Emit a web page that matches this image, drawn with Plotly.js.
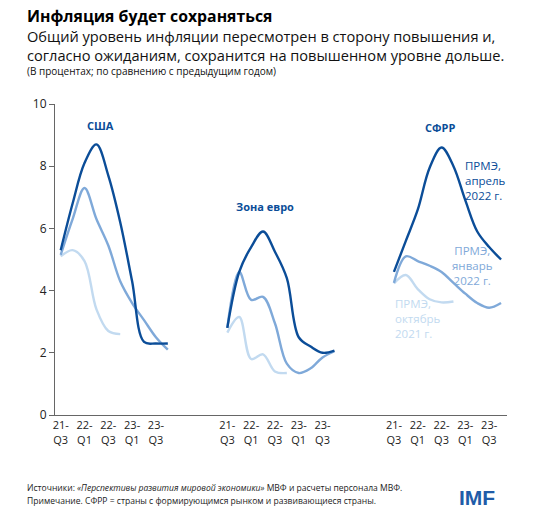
<!DOCTYPE html>
<html>
<head>
<meta charset="utf-8">
<script src="https://cdn.plot.ly/plotly-3.0.1.min.js"></script>
<style>
  body { margin: 0; background: #fff; }
  #chart { width: 542px; height: 527px; }
</style>
</head>
<body>
<div id="chart"></div>
<script>
// tick labels, every second quarter
var tickLabels = ['21-<br>Q3', '22-<br>Q1', '22-<br>Q3', '23-<br>Q1', '23-<br>Q3'];

// США
var usApr = [5.3, 6.8, 8.1, 8.7, 7.7, 6.2, 4.3, 2.35, 2.3, 2.3];
var usJan = [5.15, 6.3, 7.3, 6.3, 5.45, 4.3, 3.6, 3.05, 2.5, 2.1];
var usOct = [5.1, 5.3, 4.95, 3.4, 2.7, 2.6];
// Зона евро
var euApr = [2.8, 4.6, 5.4, 5.9, 5.25, 4.4, 2.5, 2.2, 2.0, 2.07];
var euJan = [2.8, 4.6, 3.7, 3.8, 2.95, 1.65, 1.35, 1.5, 1.85, 2.05];
var euOct = [2.65, 3.15, 1.8, 1.95, 1.4, 1.35];
// СФРР
var emApr = [4.6, 5.6, 6.6, 7.95, 8.6, 8.0, 6.9, 5.9, 5.4, 5.0];
var emJan = [4.25, 5.1, 4.95, 4.8, 4.6, 4.25, 3.9, 3.6, 3.45, 3.6];
var emOct = [4.23, 4.5, 4.05, 3.72, 3.62, 3.65];

var groupStart = [0, 14, 28];   // first quarter of each block on the x axis

var cDark = '#0b4d98';
var cMid = '#7fa9d9';
var cLight = '#c2daf0';

function xs(vals, g) {
    return vals.map(function(v, i) { return groupStart[g] + i; });
}

function trace(vals, g, color) {
    return {
        x: xs(vals, g),
        y: vals,
        type: 'scatter',
        mode: 'lines',
        line: { color: color, width: 2.4, shape: 'spline', smoothing: 1 },
        hoverinfo: 'skip',
        showlegend: false
    };
}

// draw light first so the darker lines sit on top
var data = [
    trace(usOct, 0, cLight), trace(usJan, 0, cMid), trace(usApr, 0, cDark),
    trace(euOct, 1, cLight), trace(euJan, 1, cMid), trace(euApr, 1, cDark),
    trace(emOct, 2, cLight), trace(emJan, 2, cMid), trace(emApr, 2, cDark)
];

var tickvals = [];
var ticktext = [];
groupStart.forEach(function(s) {
    tickLabels.forEach(function(t, i) {
        tickvals.push(s + i * 2);
        ticktext.push(t);
    });
});

// plot box in pixels, used to place the header/footer text
var W = 542, H = 527;
var M = { l: 55, r: 35, t: 104, b: 112 };
function px(x) { return (x - M.l) / (W - M.l - M.r); }
function py(y) { return (H - M.b - y) / (H - M.t - M.b); }

var font = 'Open Sans, Noto Sans, sans-serif';

var annotations = [
    { text: '<b>Инфляция будет сохраняться</b>', x: px(26), y: py(16), size: 15.8, color: '#000' },
    { text: 'Общий уровень инфляции пересмотрен в сторону повышения и,<br>согласно ожиданиям, сохранится на повышенном уровне дольше.', x: px(26), y: py(45.5), size: 14.6, color: '#111' },
    { text: '(В процентах; по сравнению с предыдущим годом)', x: px(26), y: py(71), size: 10, color: '#111' },
    { text: 'Источники: <i>«Перспективы развития мировой экономики»</i> МВФ и расчеты персонала МВФ.', x: px(26), y: py(488), size: 8.55, color: '#222' },
    { text: 'Примечание. СФРР = страны с формирующимся рынком и развивающиеся страны.', x: px(26), y: py(501), size: 8.55, color: '#222' }
].map(function(a) {
    return {
        xref: 'paper', yref: 'paper', x: a.x, y: a.y,
        xanchor: 'left', yanchor: 'middle', showarrow: false, align: 'left',
        borderpad: 0,
        text: a.text, font: { family: font, size: a.size, color: a.color }
    };
});

annotations.push({
    xref: 'paper', yref: 'paper', x: px(477), y: py(497),
    xanchor: 'center', yanchor: 'middle', showarrow: false,
    text: '<b>IMF</b>', font: { family: 'Liberation Sans, Arial, sans-serif', size: 21, color: '#1f5ca8' }
});

// series and block labels inside the plot
var inner = [
    { text: '<b>США</b>', x: 3.35, y: 9.3, color: cDark, anchor: 'center', size: 11 },
    { text: '<b>Зона евро</b>', x: 17.2, y: 6.7, color: cDark, anchor: 'center', size: 11 },
    { text: '<b>СФРР</b>', x: 31.9, y: 9.25, color: cDark, anchor: 'center', size: 11 },
    { text: 'ПРМЭ,<br>апрель<br>2022 г.', x: 33.8, y: 7.55, color: cDark, anchor: 'left', size: 11.5 },
    { text: 'ПРМЭ,<br>январь<br>2022 г.', x: 34.6, y: 4.8, color: cMid, anchor: 'center', size: 11.5 },
    { text: 'ПРМЭ,<br>октябрь<br>2021 г.', x: 27.95, y: 3.1, color: cLight, anchor: 'left', size: 11.5 }
];
inner.forEach(function(a) {
    annotations.push({
        x: a.x, y: a.y, xanchor: a.anchor, yanchor: 'middle', align: a.anchor,
        showarrow: false, text: a.text,
        font: { family: font, size: a.size, color: a.color }
    });
});

var layout = {
    width: W, height: H,
    margin: M,
    paper_bgcolor: '#fff',
    plot_bgcolor: '#fff',
    font: { family: font, color: '#222' },
    xaxis: {
        range: [-0.48, 37.5],
        tickvals: tickvals,
        ticktext: ticktext,
        showgrid: false, zeroline: false,
        showline: true, linecolor: '#666', linewidth: 1,
        ticks: '',
        tickfont: { size: 11, color: '#222' },
        fixedrange: true
    },
    yaxis: {
        range: [0, 10],
        dtick: 2,
        showgrid: false, zeroline: false,
        showline: true, linecolor: '#666', linewidth: 1,
        ticks: 'outside', ticklen: 5, tickcolor: '#666',
        tickfont: { size: 12, color: '#222' },
        fixedrange: true
    },
    annotations: annotations
};

Plotly.newPlot('chart', data, layout, { displayModeBar: false, staticPlot: true });
</script>
</body>
</html>
